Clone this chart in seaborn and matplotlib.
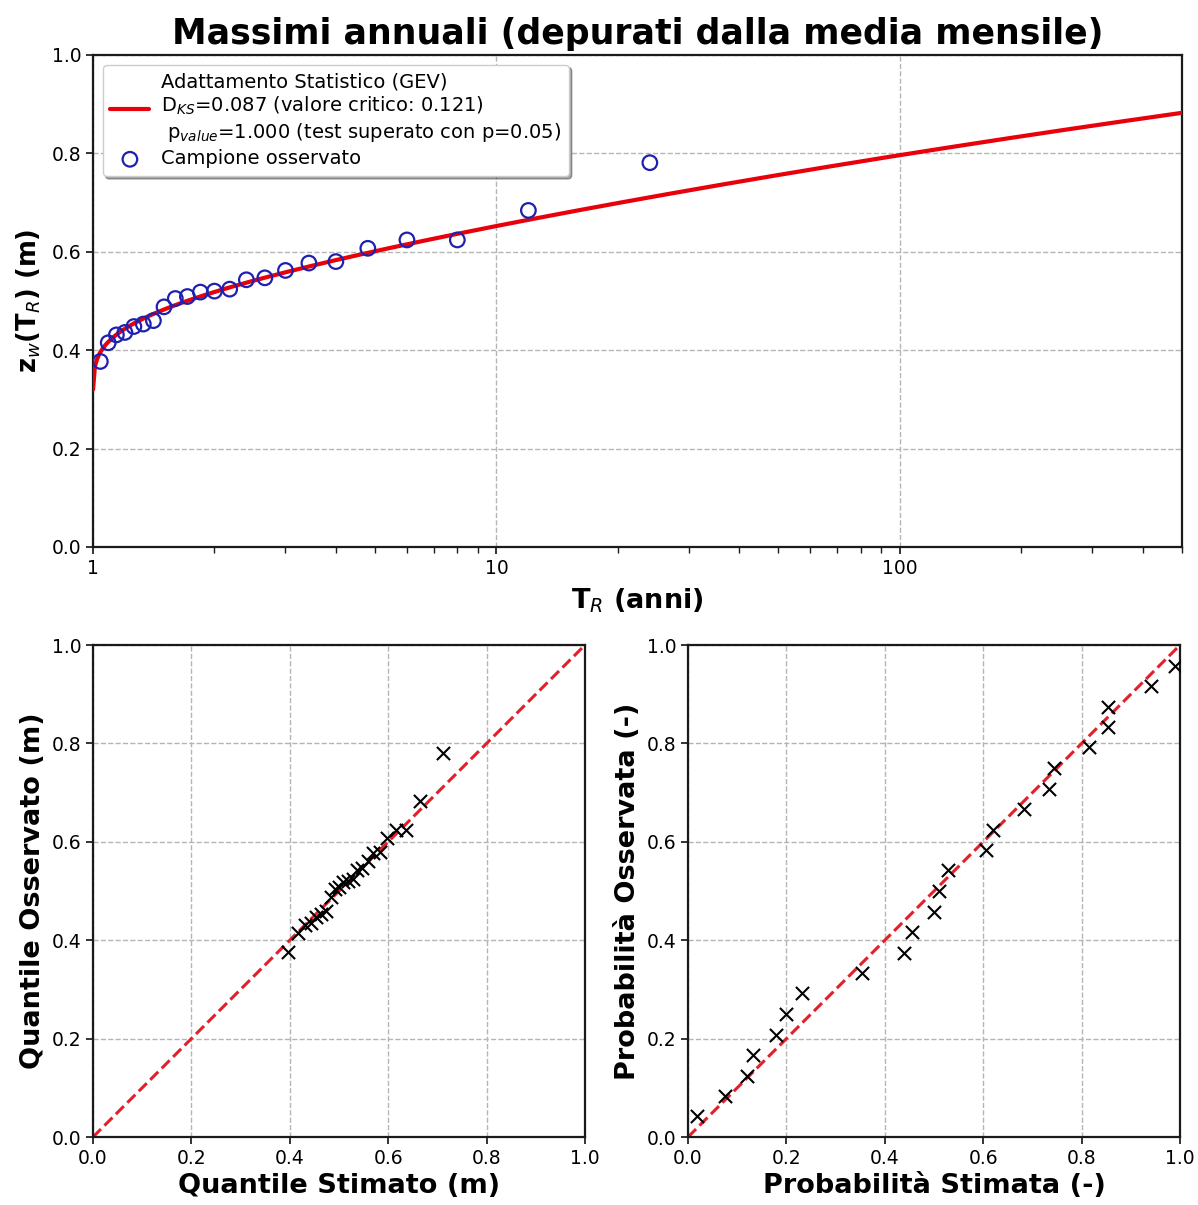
import numpy as np
import pandas as pd
import matplotlib
matplotlib.use("Agg")
import matplotlib.pyplot as plt
import seaborn as sns
from matplotlib.ticker import FixedLocator, FuncFormatter, LogLocator, NullFormatter

# Annual maxima sample (sorted), return periods from Weibull plotting positions
return_period = [1.043, 1.091, 1.143, 1.200, 1.263, 1.333, 1.412, 1.500, 1.600, 1.714,
                 1.846, 2.000, 2.182, 2.400, 2.667, 3.000, 3.429, 4.000, 4.800, 6.000,
                 8.000, 12.000, 24.000]
observed = [0.377, 0.415, 0.431, 0.436, 0.448, 0.453, 0.460, 0.488, 0.505, 0.509,
            0.518, 0.520, 0.524, 0.543, 0.547, 0.562, 0.577, 0.580, 0.607, 0.624,
            0.624, 0.684, 0.781]

# Quantiles estimated by the fitted GEV at the same plotting positions
estimated_quantile = [0.396, 0.417, 0.431, 0.444, 0.454, 0.464, 0.474, 0.483, 0.492, 0.500,
                      0.509, 0.518, 0.528, 0.537, 0.547, 0.558, 0.570, 0.583, 0.598, 0.615,
                      0.636, 0.665, 0.711]

# Probability plot: fitted CDF at observed values vs empirical probability
estimated_prob = [0.018, 0.075, 0.119, 0.133, 0.178, 0.199, 0.232, 0.353, 0.440, 0.455,
                  0.499, 0.510, 0.529, 0.606, 0.619, 0.682, 0.734, 0.743, 0.816, 0.853,
                  0.853, 0.940, 0.990]
observed_prob = [0.042, 0.083, 0.125, 0.167, 0.208, 0.250, 0.292, 0.333, 0.375, 0.417,
                 0.458, 0.500, 0.542, 0.583, 0.625, 0.667, 0.708, 0.750, 0.792, 0.833,
                 0.875, 0.917, 0.958]

# Fitted GEV parameters (location, scale, shape with bounded upper tail)
gev_loc = 0.490
gev_scale = 0.078
gev_shape = 0.0706

sns.set_theme(style="ticks")
plt.rcParams.update({
    "font.family": ["DejaVu Sans"],
    "mathtext.fontset": "dejavusans",
    "text.color": "black",
    "axes.labelcolor": "black",
    "axes.titlecolor": "black",
    "axes.edgecolor": "#1a1a1a",
    "axes.linewidth": 1.6,
    "xtick.labelsize": 13.5,
    "ytick.labelsize": 13.5,
    "xtick.color": "#1a1a1a",
    "ytick.color": "#1a1a1a",
    "xtick.labelcolor": "black",
    "ytick.labelcolor": "black",
    "xtick.major.size": 5,
    "ytick.major.size": 5,
})

fig = plt.figure(figsize=(11.98, 12.05), dpi=100)
ax_top = fig.add_axes([0.0776, 0.5461, 0.9090, 0.4083])
ax_qq = fig.add_axes([0.0776, 0.0564, 0.4107, 0.4083])
ax_pp = fig.add_axes([0.5743, 0.0564, 0.4107, 0.4083])

grid_kw = dict(color="#b5b5b5", linestyle="--", linewidth=1.0)

# --- Return level plot ---
T_curve = np.logspace(np.log10(1.0005), np.log10(500), 600)
y_red = -np.log(1.0 - 1.0 / T_curve)
z_curve = gev_loc + gev_scale / gev_shape * (1.0 - y_red ** gev_shape)
curve_df = pd.DataFrame({"T": T_curve, "z": z_curve})
obs_df = pd.DataFrame({"T": return_period, "z": observed})

label_fit = ("Adattamento Statistico (GEV)\n"
             r"$\mathrm{D}_{KS}$=0.087 (valore critico: 0.121)" "\n"
             r" $\mathrm{p}_{value}$=1.000 (test superato con p=0.05)")
sns.lineplot(data=curve_df, x="T", y="z", ax=ax_top, color="#e8000b", linewidth=3,
             label=label_fit, zorder=3)
sns.scatterplot(data=obs_df, x="T", y="z", ax=ax_top, marker="o", s=110,
                facecolor="none", edgecolor="#2020b0", linewidth=1.6,
                label="Campione osservato", zorder=4)
ax_top.set_xscale("log")
ax_top.set_xlim(1, 500)
ax_top.set_ylim(0, 1)
ax_top.xaxis.set_major_locator(FixedLocator([1, 10, 100]))
ax_top.xaxis.set_major_formatter(FuncFormatter(lambda v, p: f"{v:g}"))
ax_top.xaxis.set_minor_locator(LogLocator(base=10, subs=np.arange(2, 10)))
ax_top.xaxis.set_minor_formatter(NullFormatter())
ax_top.set_yticks(np.arange(0, 1.01, 0.2))
ax_top.yaxis.set_major_formatter(FuncFormatter(lambda v, p: f"{v:.1f}"))
ax_top.grid(True, which="major", **grid_kw)
ax_top.set_xlabel(r"T$_R$ (anni)", fontsize=19.5, fontweight="bold", labelpad=6)
ax_top.set_ylabel(r"z$_w$(T$_R$) (m)", fontsize=18.5, fontweight="bold", labelpad=6)
ax_top.set_title("Massimi annuali (depurati dalla media mensile)", fontsize=25,
                 fontweight="bold", pad=8)
leg = ax_top.legend(loc="upper left", fontsize=14, frameon=True, fancybox=True,
                    shadow=True, framealpha=1, borderaxespad=0.5,
                    handlelength=2.0, handletextpad=0.6, labelspacing=0.3)
leg.get_frame().set_edgecolor("#cccccc")

# --- Quantile-quantile plot ---
qq_df = pd.DataFrame({"est": estimated_quantile, "obs": observed})
diag = pd.DataFrame({"a": [0.0, 1.0], "b": [0.0, 1.0]})
sns.lineplot(data=diag, x="a", y="b", ax=ax_qq, color="#e0202a", linestyle="--",
             linewidth=2.2, zorder=2)
sns.scatterplot(data=qq_df, x="est", y="obs", ax=ax_qq, marker="x", s=90,
                color="black", linewidth=1.5, zorder=3)
ax_qq.set_xlabel("Quantile Stimato (m)", fontsize=19.5, fontweight="bold")
ax_qq.set_ylabel("Quantile Osservato (m)", fontsize=19.5, fontweight="bold")

# --- Probability-probability plot ---
pp_df = pd.DataFrame({"est": estimated_prob, "obs": observed_prob})
sns.lineplot(data=diag, x="a", y="b", ax=ax_pp, color="#e0202a", linestyle="--",
             linewidth=2.2, zorder=2)
sns.scatterplot(data=pp_df, x="est", y="obs", ax=ax_pp, marker="x", s=90,
                color="black", linewidth=1.5, zorder=3)
ax_pp.set_xlabel("Probabilità Stimata (-)", fontsize=19.5, fontweight="bold")
ax_pp.set_ylabel("Probabilità Osservata (-)", fontsize=19.5, fontweight="bold")

for ax in (ax_qq, ax_pp):
    ax.set_xlim(0, 1)
    ax.set_ylim(0, 1)
    ax.set_xticks(np.arange(0, 1.01, 0.2))
    ax.set_yticks(np.arange(0, 1.01, 0.2))
    ax.xaxis.set_major_formatter(FuncFormatter(lambda v, p: f"{v:.1f}"))
    ax.yaxis.set_major_formatter(FuncFormatter(lambda v, p: f"{v:.1f}"))
    ax.grid(True, **grid_kw)

for ax in (ax_top, ax_qq, ax_pp):
    for s in ax.spines.values():
        s.set_visible(True)

fig.savefig("out.png", dpi=100)
